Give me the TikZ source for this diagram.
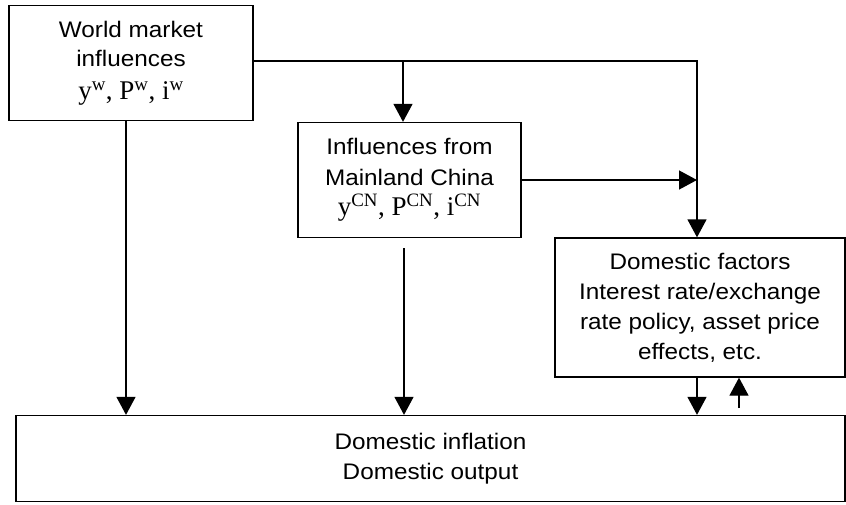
\documentclass[tikz,border=0pt]{standalone}
\usepackage{fontspec}
\setmainfont[FakeStretch=1.08]{Liberation Sans}
\newfontfamily\tms{Liberation Serif}
\usetikzlibrary{arrows.meta,calc}
\begin{document}
\begin{tikzpicture}[x=1pt,y=-1pt,
  box/.style={draw,line width=1.3pt,align=center,inner sep=0pt,font=\fontsize{22.5}{29}\selectfont},
  arr/.style={line width=1.3pt,-{Triangle[width=19pt,length=18pt]}},
  ln/.style={line width=1.3pt}]
\useasboundingbox (0,0) rectangle (846,504);
\node[box,minimum width=244pt,minimum height=115pt] (world) at (131,63)
  {World market\\influences\\[4pt]{\tms\fontsize{27}{28}\selectfont y\textsuperscript{w}, P\textsuperscript{w}, i\textsuperscript{w}}};
\node[box,minimum width=223pt,minimum height=115pt,font=\fontsize{22.5}{31}\selectfont] (china) at (409.5,180)
  {Influences from\\Mainland China\\[-1pt]{\tms\fontsize{27}{28}\selectfont y\textsuperscript{CN}, P\textsuperscript{CN}, i\textsuperscript{CN}}};
\node[box,minimum width=290pt,minimum height=139pt,font=\fontsize{22.5}{30}\selectfont] (dom) at (700,307.5)
  {Domestic factors\\Interest rate/exchange\\rate policy, asset price\\effects, etc.};
\node[box,minimum width=829pt,minimum height=86pt,font=\fontsize{22.5}{30}\selectfont] (bot) at (430.5,458.5)
  {Domestic inflation\\Domestic output};
\coordinate (j1) at (403,61);
\coordinate (j2) at (697,61);
\coordinate (up) at (739,408);
\draw[ln] (world.east |- j1) -- (j1);
\draw[arr] (j1) -- (j2) -- (j2 |- dom.north);
\draw[arr] (j1) -- (j1 |- china.north);
\draw[arr] (china.east) -- (j2 |- china.east);
\draw[arr] ([xshift=-5pt]world.south) -- ([xshift=-5pt]world.south |- bot.north);
\draw[arr,shorten <=10pt] ([xshift=-5.5pt]china.south) -- ([xshift=-5.5pt]china.south |- bot.north);
\draw[arr] (j2 |- dom.south) -- (j2 |- bot.north);
\draw[arr] (up) -- (up |- dom.south);
\end{tikzpicture}
\end{document}
